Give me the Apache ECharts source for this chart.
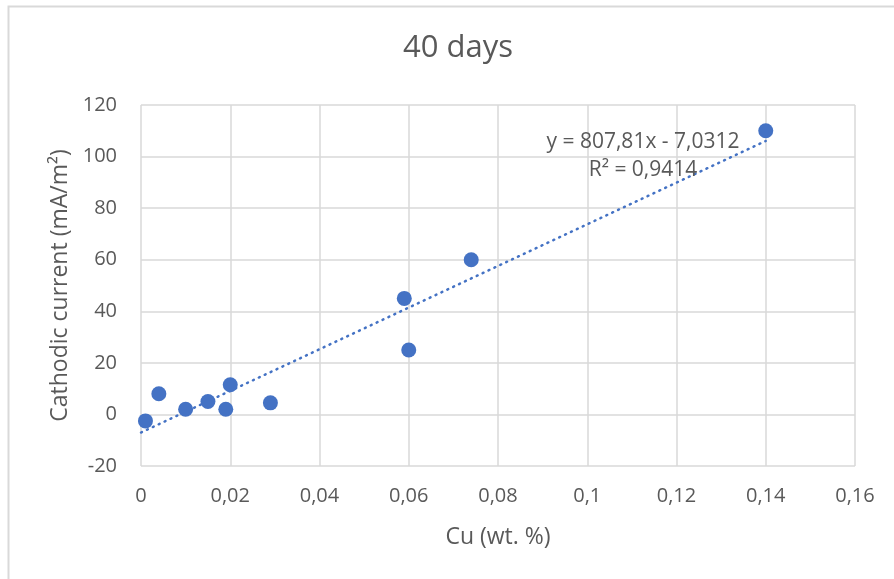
<!DOCTYPE html>
<html>
<head>
<meta charset="utf-8">
<script src="https://cdn.jsdelivr.net/npm/echarts@6/dist/echarts.min.js"></script>
<style>html,body{margin:0;padding:0;background:#fff;}#c{width:894px;height:579px;}</style>
</head>
<body>
<div id="c"></div>
<script>
const cuValues = [0.001, 0.004, 0.010, 0.015, 0.019, 0.020, 0.029, 0.059, 0.060, 0.074, 0.140];
const currentValues = [-2.5, 8, 2, 5, 2, 11.5, 4.5, 45, 25, 60, 110];
const trendSlope = 807.81;
const trendIntercept = -7.0312;
const trendRange = [0, 0.14];
const rSquared = '0,9414';
const titleText = '40 days';
const xAxisName = 'Cu (wt. %)';
const yAxisName = 'Cathodic current (mA/m²)';

const FONT = 'Open Sans';
const GREY = '#595959';
const BLUE = '#4472C4';
const fmt = v => String(parseFloat(Number(v).toFixed(4))).replace('.', ',');

const trendData = trendRange.map(x => [x, trendSlope * x + trendIntercept]);
const chart = echarts.init(document.getElementById('c'));
chart.setOption({
  backgroundColor: '#fff',
  animation: false,
  title: {
    text: titleText, left: 398, top: 28,
    textStyle: { fontFamily: FONT, fontSize: 31, fontWeight: 'normal', color: GREY }
  },
  grid: { left: 141, right: 39, top: 105, bottom: 113 },
  xAxis: {
    type: 'value', min: 0, max: 0.16, interval: 0.02,
    name: xAxisName, nameLocation: 'middle', nameGap: 60,
    nameTextStyle: { fontFamily: FONT, fontSize: 23, color: GREY },
    axisLine: { show: false }, axisTick: { show: false },
    axisLabel: { formatter: fmt, fontFamily: FONT, fontSize: 20, color: GREY, margin: 20 },
    splitLine: { show: true, lineStyle: { color: '#d9d9d9', width: 1.5 } }
  },
  yAxis: {
    type: 'value', min: -20, max: 120, interval: 20,
    name: yAxisName, nameLocation: 'middle', nameGap: 66,
    nameTextStyle: { fontFamily: FONT, fontSize: 23, color: GREY },
    axisLine: { show: false }, axisTick: { show: false },
    axisLabel: { formatter: fmt, fontFamily: FONT, fontSize: 20, color: GREY, margin: 24 },
    splitLine: { show: true, lineStyle: { color: '#d9d9d9', width: 1.5 } }
  },
  series: [
    {
      type: 'line', data: trendData, symbol: 'none', z: 3,
      lineStyle: { color: BLUE, width: 2.5, type: [1, 5.5], cap: 'round' }
    },
    {
      type: 'scatter', data: cuValues.map((x, i) => [x, currentValues[i]]),
      symbol: 'circle', symbolSize: 15, z: 4,
      itemStyle: { color: BLUE, opacity: 1 }
    }
  ],
  graphic: [
    {
      type: 'rect', shape: { x: 8.5, y: 6.5, width: 900, height: 600 },
      style: { fill: 'none', stroke: '#d9d9d9', lineWidth: 2 }, silent: true, z: -1
    },
    {
      type: 'text', x: 643, y: 156, z: 10,
      style: {
        text: 'y = ' + fmt(trendSlope) + 'x - ' + fmt(-trendIntercept) + '\nR² = ' + rSquared,
        align: 'center', verticalAlign: 'middle', lineHeight: 28,
        fontFamily: FONT, fontSize: 21, fill: GREY
      }
    }
  ]
});
</script>
</body>
</html>
